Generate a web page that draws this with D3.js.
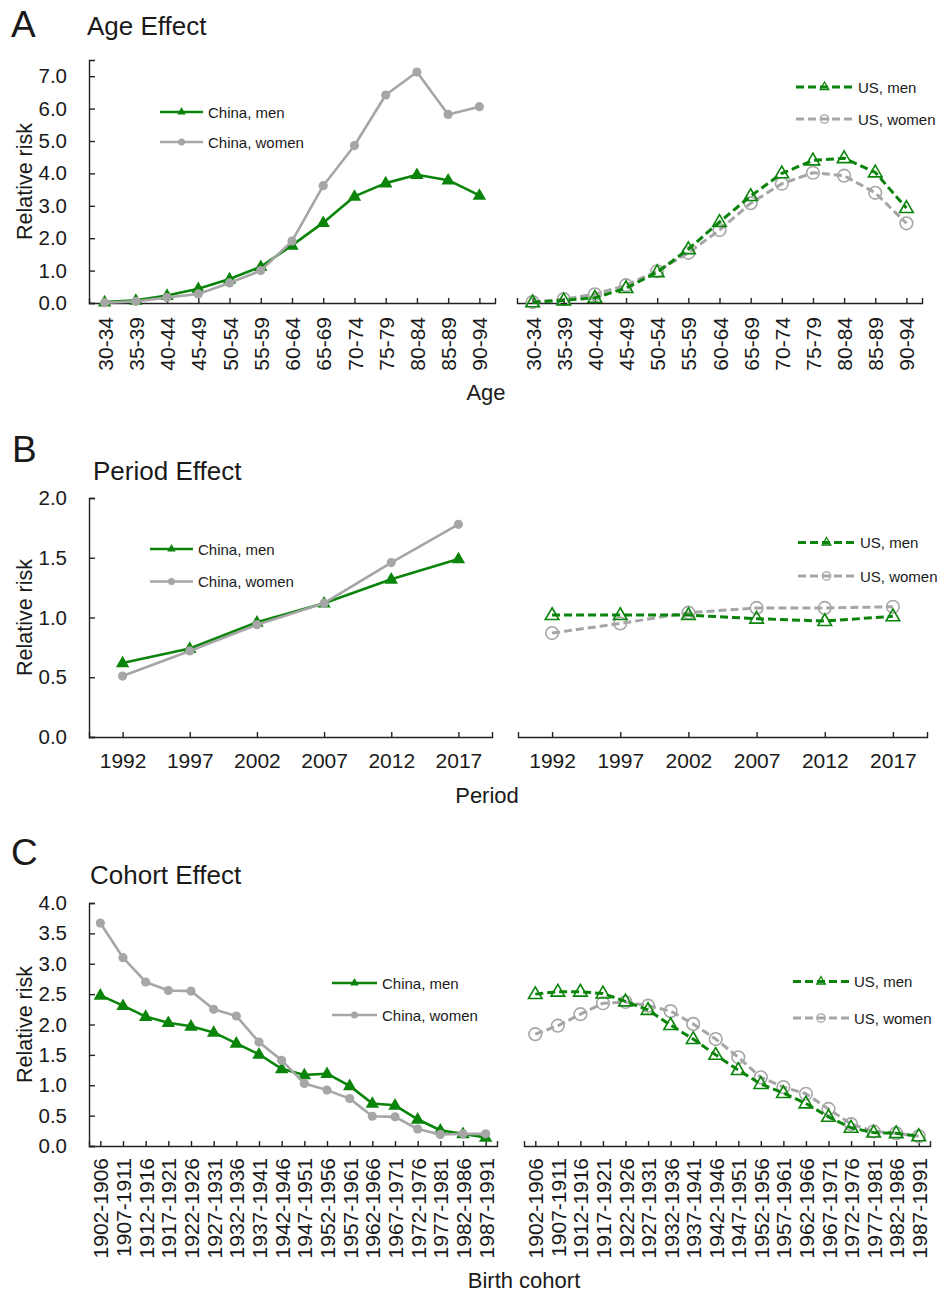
<!DOCTYPE html>
<html>
<head>
<meta charset="utf-8">
<script src="https://cdn.jsdelivr.net/npm/d3@7"></script>
<style>
  body { margin: 0; background: #fff; }
  svg text { font-family: "Liberation Sans", Arial, sans-serif; fill: #1a1a1a; }
</style>
</head>
<body>
<script>
// age effect
var ageGroups = ["30-34", "35-39", "40-44", "45-49", "50-54", "55-59", "60-64", "65-69", "70-74", "75-79", "80-84", "85-89", "90-94"];
var ageChinaMen = [0.03, 0.08, 0.23, 0.44, 0.74, 1.12, 1.78, 2.48, 3.29, 3.70, 3.96, 3.79, 3.32];
var ageChinaWomen = [0.01, 0.05, 0.17, 0.28, 0.62, 1.00, 1.91, 3.62, 4.86, 6.42, 7.13, 5.82, 6.06];
var ageUSMen = [0.02, 0.08, 0.16, 0.46, 0.95, 1.66, 2.50, 3.30, 4.00, 4.40, 4.47, 4.03, 2.93];
var ageUSWomen = [0.03, 0.12, 0.27, 0.55, 0.98, 1.55, 2.25, 3.08, 3.68, 4.02, 3.93, 3.40, 2.46];
var ageTicks = [0, 1, 2, 3, 4, 5, 6, 7];

// period effect
var periods = ["1992", "1997", "2002", "2007", "2012", "2017"];
var perChinaMen = [0.62, 0.74, 0.96, 1.12, 1.32, 1.49];
var perChinaWomen = [0.51, 0.72, 0.94, 1.12, 1.46, 1.78];
var perUSMen = [1.02, 1.02, 1.02, 0.99, 0.97, 1.01];
var perUSWomen = [0.87, 0.95, 1.04, 1.08, 1.08, 1.09];
var perTicks = [0, 0.5, 1, 1.5, 2];

// cohort effect
var cohorts = ["1902-1906", "1907-1911", "1912-1916", "1917-1921", "1922-1926", "1927-1931", "1932-1936", "1937-1941", "1942-1946",
    "1947-1951", "1952-1956", "1957-1961", "1962-1966", "1967-1971", "1972-1976", "1977-1981", "1982-1986", "1987-1991"];
var cohChinaMen = [2.48, 2.31, 2.13, 2.03, 1.97, 1.87, 1.69, 1.51, 1.27, 1.17, 1.19, 0.99, 0.70, 0.67, 0.44, 0.26, 0.20, 0.14];
var cohChinaWomen = [3.67, 3.10, 2.70, 2.56, 2.55, 2.25, 2.14, 1.71, 1.41, 1.03, 0.92, 0.78, 0.49, 0.48, 0.28, 0.19, 0.20, 0.20];
var cohUSMen = [2.50, 2.54, 2.54, 2.51, 2.38, 2.24, 1.99, 1.76, 1.50, 1.25, 1.02, 0.87, 0.70, 0.48, 0.30, 0.22, 0.21, 0.16];
var cohUSWomen = [1.84, 1.98, 2.17, 2.35, 2.37, 2.31, 2.22, 2.01, 1.76, 1.46, 1.13, 0.97, 0.86, 0.61, 0.36, 0.24, 0.21, 0.16];
var cohTicks = [0, 0.5, 1, 1.5, 2, 2.5, 3, 3.5, 4];

var legendNames = { cm: "China, men", cw: "China, women", um: "US, men", uw: "US, women" };

// 线条样式
var GREEN = "#0a840a", GRAY = "#a6a6a6";
var styles = {
    cm: { color: GREEN, dash: null, width: 2.6, marker: "tri", fill: true },
    cw: { color: GRAY, dash: null, width: 2.6, marker: "dot", fill: true },
    um: { color: GREEN, dash: "8,4", width: 3, marker: "tri", fill: false },
    uw: { color: GRAY, dash: "8,4", width: 3, marker: "dot", fill: false }
};

var W = 937, H = 1295;
var svg = d3.select("body").append("svg").attr("width", W).attr("height", H);

function marker(g, key, x, y, small) {
    var s = styles[key];
    var m;
    if (s.marker === "tri") {
        var size = small ? 32 : (s.fill ? 78 : 80);
        m = g.append("path").attr("d", d3.symbol().type(d3.symbolTriangle).size(size)())
            .attr("transform", "translate(" + x + "," + (y + (small ? 0 : 0.5)) + ")");
    } else {
        var r = small ? (s.fill ? 3.5 : 4.2) : (s.fill ? 4.6 : 6.3);
        m = g.append("circle").attr("cx", x).attr("cy", y).attr("r", r);
    }
    if (s.fill) {
        m.attr("fill", s.color).attr("stroke", "none");
    } else {
        m.attr("fill", "none").attr("stroke", s.color).attr("stroke-width", small ? 1.3 : 1.6);
    }
}

function drawSide(panel, side) {
    var cats = panel.cats;
    var x = d3.scalePoint().domain(cats).range([side.x0, side.x1]).padding(0.5);
    var y = panel.y;
    var g = svg.append("g");

    // x轴
    var ax = g.append("g").attr("transform", "translate(0," + panel.yBottom + ")")
        .call(d3.axisBottom(x).tickSizeInner(-5).tickSizeOuter(-5));
    ax.selectAll("path, line").attr("stroke", "#222").attr("stroke-width", 1.4);
    ax.selectAll("text").attr("font-size", panel.tickFont).attr("fill", "#1a1a1a")
        .style("font-family", "'Liberation Sans', Arial, sans-serif");
    if (panel.rotate) {
        ax.selectAll("text")
            .attr("transform", "rotate(-90)")
            .attr("text-anchor", "end")
            .attr("x", -panel.labelGap)
            .attr("y", 0)
            .attr("dy", "0.36em");
    } else {
        ax.selectAll("text").attr("y", panel.labelGap).attr("dy", "0.71em");
    }

    // y轴只画在左边
    if (side.yAxis) {
        var ay = g.append("g").attr("transform", "translate(" + side.x0 + ",0)")
            .call(d3.axisLeft(y).tickValues(panel.ticks).tickSizeInner(-6).tickSizeOuter(-6)
                .tickPadding(22).tickFormat(d3.format(".1f")));
        ay.selectAll("path, line").attr("stroke", "#222").attr("stroke-width", 1.4);
        ay.selectAll("text").attr("font-size", 20.5).attr("fill", "#1a1a1a")
            .style("font-family", "'Liberation Sans', Arial, sans-serif");
    }

    var line = d3.line()
        .x(function (d, i) { return x(cats[i]); })
        .y(function (d) { return y(d); });

    side.series.forEach(function (s) {
        var st = styles[s.key];
        g.append("path").datum(s.values)
            .attr("d", line)
            .attr("fill", "none")
            .attr("stroke", st.color)
            .attr("stroke-width", st.width)
            .attr("stroke-dasharray", st.dash)
            .attr("stroke-linejoin", "round");
        s.values.forEach(function (v, i) {
            marker(g, s.key, x(cats[i]), y(v), false);
        });
    });

    // 图例
    var lg = side.legend;
    lg.keys.forEach(function (k, i) {
        var st = styles[k];
        var ly = lg.y + i * lg.step;
        g.append("line").attr("x1", lg.x0).attr("x2", lg.x1).attr("y1", ly).attr("y2", ly)
            .attr("stroke", st.color).attr("stroke-width", st.width)
            .attr("stroke-dasharray", st.dash);
        marker(g, k, (lg.x0 + lg.x1) / 2, ly, true);
        g.append("text").attr("x", lg.x1 + 5).attr("y", ly + 5.5)
            .attr("font-size", 15).text(legendNames[k]);
    });
}

function drawPanel(panel) {
    panel.y = d3.scaleLinear().domain(panel.domain).range([panel.yBottom, panel.yTop]);
    drawSide(panel, panel.left);
    drawSide(panel, panel.right);

    svg.append("text").attr("x", panel.letter[0]).attr("y", panel.letter[1])
        .attr("font-size", 37).text(panel.letter[2]);
    svg.append("text").attr("x", panel.title[0]).attr("y", panel.title[1])
        .attr("font-size", 26).text(panel.title[2]);
    svg.append("text")
        .attr("transform", "translate(32," + ((panel.yTop + panel.yBottom) / 2) + ")rotate(-90)")
        .attr("text-anchor", "middle").attr("font-size", 21.5).text("Relative risk");
    svg.append("text").attr("x", panel.xTitle[0]).attr("y", panel.xTitle[1])
        .attr("text-anchor", "middle").attr("font-size", 22).text(panel.xTitle[2]);
}

drawPanel({
    cats: ageGroups, domain: [0, 7.5], ticks: ageTicks, yTop: 60, yBottom: 303,
    rotate: true, labelGap: 14, tickFont: 21,
    letter: [11, 37, "A"], title: [87, 35, "Age Effect"], xTitle: [486, 400, "Age"],
    left: {
        x0: 89, x1: 495, yAxis: true,
        series: [{ key: "cm", values: ageChinaMen }, { key: "cw", values: ageChinaWomen }],
        legend: { keys: ["cm", "cw"], x0: 160, x1: 203, y: 112, step: 30 }
    },
    right: {
        x0: 517, x1: 922, yAxis: false,
        series: [{ key: "uw", values: ageUSWomen }, { key: "um", values: ageUSMen }],
        legend: { keys: ["um", "uw"], x0: 796, x1: 853, y: 87, step: 32 }
    }
});

drawPanel({
    cats: periods, domain: [0, 2], ticks: perTicks, yTop: 498, yBottom: 737,
    rotate: false, labelGap: 16, tickFont: 21,
    letter: [12, 462, "B"], title: [93, 480, "Period Effect"], xTitle: [487, 803, "Period"],
    left: {
        x0: 89, x1: 492, yAxis: true,
        series: [{ key: "cm", values: perChinaMen }, { key: "cw", values: perChinaWomen }],
        legend: { keys: ["cm", "cw"], x0: 150, x1: 193, y: 549, step: 32.5 }
    },
    right: {
        x0: 518, x1: 927, yAxis: false,
        series: [{ key: "uw", values: perUSWomen }, { key: "um", values: perUSMen }],
        legend: { keys: ["um", "uw"], x0: 798, x1: 855, y: 542.5, step: 33.5 }
    }
});

drawPanel({
    cats: cohorts, domain: [0, 4], ticks: cohTicks, yTop: 903, yBottom: 1146,
    rotate: true, labelGap: 12, tickFont: 21,
    letter: [11, 865, "C"], title: [90, 884, "Cohort Effect"], xTitle: [524, 1288, "Birth cohort"],
    left: {
        x0: 89, x1: 497, yAxis: true,
        series: [{ key: "cm", values: cohChinaMen }, { key: "cw", values: cohChinaWomen }],
        legend: { keys: ["cm", "cw"], x0: 332, x1: 377, y: 983, step: 32 }
    },
    right: {
        x0: 524, x1: 930, yAxis: false,
        series: [{ key: "uw", values: cohUSWomen }, { key: "um", values: cohUSMen }],
        legend: { keys: ["um", "uw"], x0: 793, x1: 849, y: 981.5, step: 36.5 }
    }
});
</script>
</body>
</html>
